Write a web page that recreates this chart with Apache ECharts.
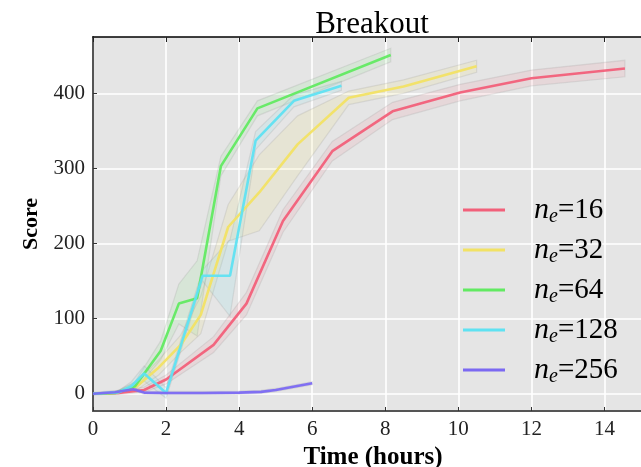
<!DOCTYPE html>
<html>
<head>
<meta charset="utf-8">
<script src="https://cdn.jsdelivr.net/npm/echarts@6/dist/echarts.min.js"></script>
<style>
html,body{margin:0;padding:0;background:#fff;overflow:hidden;}
#chart{width:641px;height:467px;}
</style>
</head>
<body>
<div id="chart"></div>
<script>
// ---- data ----
const xTicks = [0, 2, 4, 6, 8, 10, 12, 14];
const yTicks = [0, 100, 200, 300, 400];
const seriesNames = ['16', '32', '64', '128', '256'];

const t16 = [0, 0.7, 1.4, 2.0, 3.3, 4.2, 5.2, 6.55, 8.2, 10.05, 12.0, 14.56];
const v16 = [0, 1, 5, 19, 65, 120, 230, 323, 376, 401, 420, 433];
const lo16 = [-1, -1, 2, 13, 55, 105, 215, 310, 365, 390, 410, 422];
const hi16 = [1, 3, 9, 25, 76, 135, 245, 336, 388, 412, 431, 444];

const t32 = [0, 0.6, 1.2, 1.8, 2.4, 2.95, 3.7, 4.55, 5.6, 7.0, 8.5, 10.5];
const v32 = [0, 1, 10, 35, 65, 105, 222, 268, 332, 394, 409, 436];
const lo32 = [-1, 0, 5, 25, 55, 80, 203, 217, 290, 385, 400, 428];
const hi32 = [1, 2, 16, 45, 78, 130, 252, 318, 370, 403, 418, 444];

const t64 = [0, 0.6, 1.15, 1.85, 2.35, 2.85, 3.5, 4.5, 8.15];
const v64 = [0, 1, 10, 57, 120, 127, 303, 380, 451];
const lo64 = [-1, 0, 5, 45, 93, 77, 290, 370, 442];
const hi64 = [1, 2, 16, 70, 146, 177, 316, 390, 460];

const t128 = [0, 0.7, 1.05, 1.4, 2.0, 3.0, 3.75, 4.45, 5.5, 6.8];
const v128 = [0, 2, 10, 27, 1, 157, 157, 337, 390, 410];
const lo128 = [-1, 0, 5, 17, -6, 150, 103, 325, 382, 404];
const hi128 = [1, 4, 16, 37, 8, 165, 205, 349, 398, 416];

const t256 = [0, 0.6, 1.1, 1.4, 2.0, 3.0, 4.0, 4.6, 5.0, 6.0];
const v256 = [0, 2, 6, 1.5, 1, 1, 1.5, 2.5, 5, 14];
const lo256 = [-2, 0, 4, -0.5, -1, -1, -0.5, 0.5, 3, 12];
const hi256 = [2, 4, 8, 3.5, 3, 3, 3.5, 4.5, 7, 16];

// ---- styling ----
const colors = ['#f2607a', '#f2e264', '#62ea62', '#5fe2f2', '#7b69f2'];
const bandFill = ['rgba(242,96,122,0.10)', 'rgba(242,226,100,0.13)', 'rgba(98,234,98,0.10)', 'rgba(95,226,242,0.12)', 'rgba(123,105,242,0.10)'];
const FONT = 'Liberation Serif';

const groups = [
  [t16, v16, lo16, hi16],
  [t32, v32, lo32, hi32],
  [t64, v64, lo64, hi64],
  [t128, v128, lo128, hi128],
  [t256, v256, lo256, hi256]
];

const series = [];
groups.forEach((g, i) => {
  const [ts, vs, los, his] = g;
  series.push({
    type: 'custom',
    name: 'band' + i,
    silent: true,
    z: 1,
    data: [[ts[0], vs[0]]],
    renderItem: function (params, api) {
      const pts = [];
      for (let k = 0; k < ts.length; k++) pts.push(api.coord([ts[k], his[k]]));
      for (let k = ts.length - 1; k >= 0; k--) pts.push(api.coord([ts[k], los[k]]));
      return {
        type: 'polygon',
        shape: { points: pts },
        style: { fill: bandFill[i], stroke: 'rgba(140,140,140,0.18)', lineWidth: 1.2 }
      };
    }
  });
});
groups.forEach((g, i) => {
  const [ts, vs] = g;
  series.push({
    type: 'line',
    name: 'n_e=' + seriesNames[i],
    z: 3,
    showSymbol: false,
    symbol: 'none',
    color: colors[i],
    lineStyle: { width: 2.6, color: colors[i], opacity: 0.95 },
    data: ts.map((t, k) => [t, vs[k]])
  });
});

const chart = echarts.init(document.getElementById('chart'), null, { renderer: 'canvas', width: 641, height: 467 });
chart.setOption({
  animation: false,
  backgroundColor: '#ffffff',
  title: {
    text: 'Breakout',
    left: 367,
    textAlign: 'center',
    top: 4,
    textStyle: { fontFamily: FONT, fontSize: 31, fontWeight: 'normal', color: '#000' }
  },
  grid: { left: 93, top: 37, right: 0, height: 374, outerBoundsMode: 'none', containLabel: false, show: true, backgroundColor: '#e5e5e5', borderWidth: 0 },
  legend: {
    orient: 'vertical',
    left: 463,
    top: 193,
    padding: 0,
    itemGap: 6,
    icon: 'rect',
    itemWidth: 42,
    itemHeight: 3,
    selectedMode: false,
    data: seriesNames.map(s => 'n_e=' + s),
    formatter: function (name) {
      return '{n|n}{e|e}{v|' + name.replace('n_e', '') + '}';
    },
    textStyle: {
      rich: {
        n: { fontFamily: FONT, fontStyle: 'italic', fontSize: 30, lineHeight: 30, padding: [0, 0, 0, 24], color: '#000' },
        e: { fontFamily: FONT, fontStyle: 'italic', fontSize: 20, lineHeight: 16, padding: [14, 0, 0, 0], color: '#000' },
        v: { fontFamily: FONT, fontSize: 29, lineHeight: 30, color: '#000' }
      }
    }
  },
  xAxis: [{
    type: 'value',
    min: 0,
    max: 15,
    name: 'Time (hours)',
    nameLocation: 'middle',
    nameGap: 32,
    nameTextStyle: { fontFamily: FONT, fontSize: 25, fontWeight: 'bold', color: '#000', padding: [0, 0, 0, 12] },
    axisLine: { show: true, onZero: false, lineStyle: { color: '#555', width: 2 } },
    axisTick: { show: true, inside: true, length: 4, customValues: xTicks, lineStyle: { color: '#333' } },
    axisLabel: { customValues: xTicks, margin: 8, fontFamily: FONT, fontSize: 21, color: '#222' },
    splitLine: { show: true, lineStyle: { color: '#ffffff', width: 1.6 } }
  }, {
    type: 'value',
    position: 'top',
    min: 0,
    max: 15,
    axisLine: { show: true, onZero: false, lineStyle: { color: '#000', width: 1.5 } },
    axisTick: { show: true, inside: true, length: 5, customValues: xTicks, lineStyle: { color: '#222' } },
    axisLabel: { show: false },
    splitLine: { show: false }
  }],
  yAxis: {
    type: 'value',
    min: -23,
    max: 475,
    name: 'Score',
    nameLocation: 'middle',
    nameGap: 48,
    nameTextStyle: { fontFamily: FONT, fontSize: 22, fontWeight: 'bold', color: '#000' },
    axisLine: { show: true, onZero: false, lineStyle: { color: '#555', width: 2 } },
    axisTick: { show: true, inside: true, length: 4, customValues: yTicks, lineStyle: { color: '#333' } },
    axisLabel: { customValues: yTicks, margin: 8, fontFamily: FONT, fontSize: 21, color: '#222' },
    splitLine: { show: true, lineStyle: { color: '#ffffff', width: 1.6 } }
  },
  series: series
});
</script>
</body>
</html>
